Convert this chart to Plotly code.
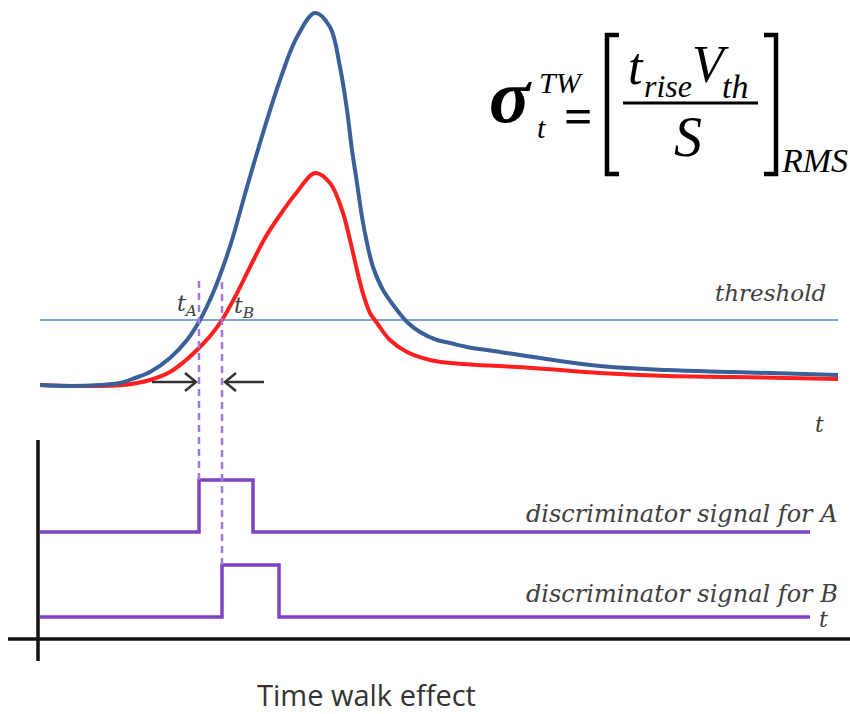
import plotly.graph_objects as go

# ---- signal data -------------------------------------------------------
# time samples (arbitrary units) and amplitudes above baseline for the two pulses
t_large = [40, 70, 100, 120, 135, 150, 170, 187, 200, 213, 223, 232, 247, 263, 280,
           297, 315, 330, 340, 347, 352, 357, 362, 367, 373, 383, 397, 407, 420, 437,
           450, 467, 500, 533, 600, 667, 733, 838]
amp_large = [0, -1, 0, 2, 7, 13, 27, 45, 65, 92, 118, 145, 198, 252, 305,
             348, 372, 358, 318, 275, 235, 202, 168, 142, 118, 95, 75, 63, 53, 45,
             42, 38, 33, 28, 19, 15, 13, 10]

t_small = [40, 80, 123, 150, 170, 185, 200, 211, 222, 235, 250, 265, 280, 297, 315,
           330, 343, 350, 362, 370, 377, 390, 407, 430, 450, 533, 600, 667, 733, 838]
amp_small = [0, -1, 0, 5, 13, 24, 38, 50, 65, 88, 118, 147, 170, 193, 212,
             202, 172, 145, 95, 72, 62, 45, 33, 25, 22, 17, 12, 9, 8, 6]

threshold = 65
t_A = 199          # large pulse crosses threshold
t_B = 222          # small pulse crosses threshold
width_A = 54       # discriminator output widths
width_B = 57
t_end = 810

# discriminator outputs (logic level vs time)
disc_A_t = [40, t_A, t_A + width_A, t_end]
disc_A_v = [0, 1, 0, 0]
disc_B_t = [40, t_B, t_B + width_B, t_end]
disc_B_v = [0, 1, 0, 0]

# ---- geometry helpers ---------------------------------------------------
W, H = 850, 714
BASE_PX = 385            # pixel row of the analog baseline
LOGIC_B0_PX = 617        # pixel row of logic low for signal B
LOGIC_A0_PX = 532        # pixel row of logic low for signal A
LOGIC_UNIT_PX = 52       # pixel height of logic high
MARK_TOP_PX = 278        # top of the dashed crossing markers

A_OFFSET = (LOGIC_B0_PX - LOGIC_A0_PX) / LOGIC_UNIT_PX
MARK_TOP = (LOGIC_B0_PX - MARK_TOP_PX) / LOGIC_UNIT_PX


def py(row):
    """pixel row -> paper y"""
    return 1 - row / H


def px(col):
    return col / W


BLUE = "#3b5f98"
RED = "#ff1f1f"
THR = "#7ea3da"
PURPLE = "#7d43c4"
DASH = "#a178dc"
GREY = "#404040"

fig = go.Figure()

# threshold line
fig.add_trace(go.Scatter(x=[40, 838], y=[threshold, threshold], mode="lines",
                         line=dict(color=THR, width=2), hoverinfo="skip"))

fig.add_trace(go.Scatter(x=t_small, y=amp_small, mode="lines",
                         line=dict(color=RED, width=4, shape="spline", smoothing=1)))
fig.add_trace(go.Scatter(x=t_large, y=amp_large, mode="lines",
                         line=dict(color=BLUE, width=4, shape="spline", smoothing=1)))

# discriminator signals on logic axis
fig.add_trace(go.Scatter(x=disc_A_t, y=[v + A_OFFSET for v in disc_A_v], mode="lines",
                         line=dict(color=PURPLE, width=3.5, shape="hv"), yaxis="y2"))
fig.add_trace(go.Scatter(x=disc_B_t, y=disc_B_v, mode="lines",
                         line=dict(color=PURPLE, width=3.5, shape="hv"), yaxis="y2"))

# dashed markers at the threshold crossings
fig.add_trace(go.Scatter(x=[t_A, t_A], y=[1 + A_OFFSET, MARK_TOP], mode="lines", yaxis="y2",
                         line=dict(color=DASH, width=2.5, dash="7px,5px")))
fig.add_trace(go.Scatter(x=[t_B, t_B], y=[1, MARK_TOP], mode="lines", yaxis="y2",
                         line=dict(color=DASH, width=2.5, dash="7px,5px")))

shapes = []
# axes of the lower panel
shapes.append(dict(type="line", xref="paper", yref="paper", x0=px(38), x1=px(38),
                   y0=py(440), y1=py(661), line=dict(color="#111", width=3.5)))
shapes.append(dict(type="line", xref="paper", yref="paper", x0=px(8), x1=px(850),
                   y0=py(639), y1=py(639), line=dict(color="#111", width=3.5)))

# arrows pointing at the two crossing times
AR = dict(color="#333", width=2.5)
shapes.append(dict(type="line", xref="x", yref="paper", x0=152, x1=t_A - 3,
                   y0=py(382), y1=py(382), line=AR))
shapes.append(dict(type="path", xref="paper", yref="paper",
                   path=f"M {px(t_A - 14)} {py(373)} L {px(t_A - 3)} {py(382)} L {px(t_A - 14)} {py(391)}",
                   line=AR))
shapes.append(dict(type="line", xref="x", yref="paper", x0=t_B + 3, x1=264,
                   y0=py(382), y1=py(382), line=AR))
shapes.append(dict(type="path", xref="paper", yref="paper",
                   path=f"M {px(t_B + 14)} {py(373)} L {px(t_B + 3)} {py(382)} L {px(t_B + 14)} {py(391)}",
                   line=AR))

# formula brackets and fraction bar
BR = dict(color="#000", width=4.5)
shapes.append(dict(type="path", xref="paper", yref="paper",
                   path=f"M {px(619)} {py(35)} L {px(607)} {py(35)} L {px(607)} {py(174)} L {px(619)} {py(174)}",
                   line=BR))
shapes.append(dict(type="path", xref="paper", yref="paper",
                   path=f"M {px(764)} {py(35)} L {px(776)} {py(35)} L {px(776)} {py(174)} L {px(764)} {py(174)}",
                   line=BR))
shapes.append(dict(type="line", xref="paper", yref="paper", x0=px(623), x1=px(758),
                   y0=py(103), y1=py(103), line=dict(color="#000", width=3)))

ann = []


def label(text, x, y, size, family, color="#000", xanchor="left", style="italic", weight="normal"):
    ann.append(dict(text=text, x=px(x), y=py(y), xref="paper", yref="paper",
                    showarrow=False, xanchor=xanchor, yanchor="middle",
                    font=dict(size=size, family=family, color=color, style=style, weight=weight)))


SERIF = "Liberation Serif"
LBL = "DejaVu Serif"

# formula
label("σ", 487, 96, 76, SERIF, weight="bold")
label("TW", 537, 82, 30, SERIF)
label("t", 535, 127, 30, SERIF)
label("=", 562, 116, 50, SERIF, style="normal", weight="bold")
label("t", 626, 66, 52, SERIF)
label("rise", 642, 86, 32, SERIF)
label("V", 690, 64, 52, SERIF)
label("th", 720, 86, 34, SERIF)
label("S", 688, 137, 56, SERIF, xanchor="center")
label("RMS", 779, 161, 34, SERIF)

# diagram labels
label("threshold", 828, 293, 23, LBL, color=GREY, xanchor="right")
label("t", 826, 424, 22, LBL, color=GREY, xanchor="right")
label("t<sub>A</sub>", 175, 305, 22, LBL, color=GREY)
label("t<sub>B</sub>", 232, 307, 22, LBL, color=GREY)
label("discriminator signal for A", 840, 514, 24, LBL, color=GREY, xanchor="right")
label("discriminator signal for B", 840, 594, 24, LBL, color=GREY, xanchor="right")
label("t", 830, 619, 22, LBL, color=GREY, xanchor="right")
label("Time walk effect", 366, 694, 29, "Open Sans", color="#333", xanchor="center", style="normal")

fig.update_layout(
    width=W, height=H, margin=dict(l=0, r=0, t=0, b=0),
    plot_bgcolor="white", paper_bgcolor="white", showlegend=False,
    xaxis=dict(range=[0, W], visible=False),
    yaxis=dict(range=[BASE_PX - H, BASE_PX], visible=False),
    yaxis2=dict(range=[(LOGIC_B0_PX - H) / LOGIC_UNIT_PX, LOGIC_B0_PX / LOGIC_UNIT_PX],
                overlaying="y", visible=False),
    shapes=shapes, annotations=ann,
)

fig.write_html("out.html")
